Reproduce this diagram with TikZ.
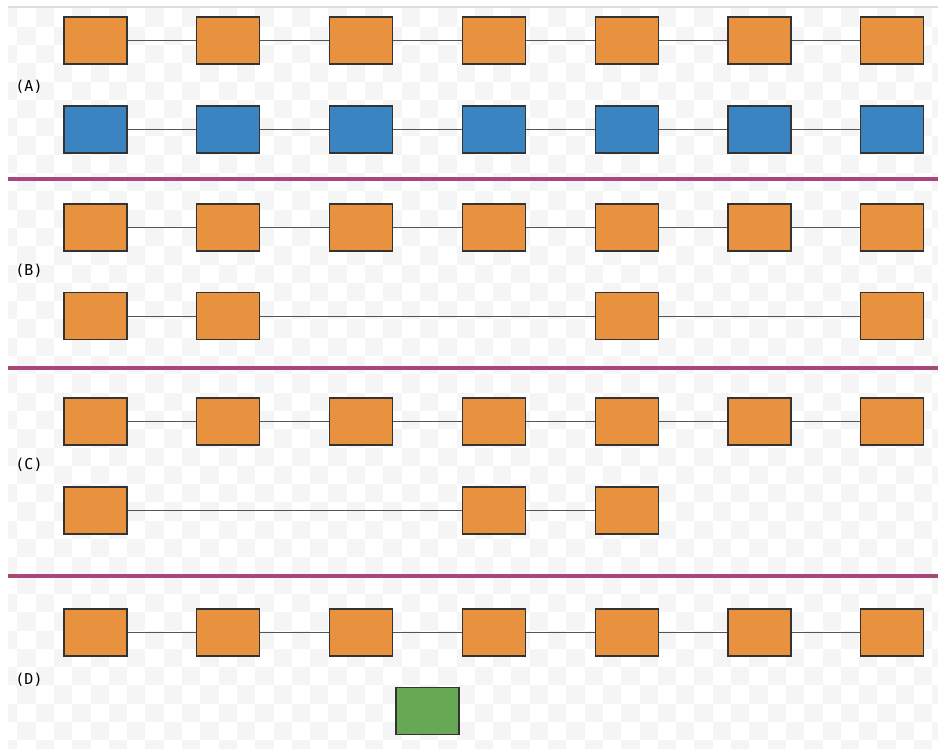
\documentclass[tikz,border=0pt]{standalone}
\usepackage{fontspec}
\newfontfamily\labelfont{DejaVu Sans Mono}
\definecolor{boxorange}{HTML}{E8923F}
\definecolor{boxblue}{HTML}{3A84C1}
\definecolor{boxgreen}{HTML}{66A853}
\definecolor{sepcol}{HTML}{A8487A}
\definecolor{checkgray}{HTML}{F5F5F5}
\definecolor{edgecol}{HTML}{333333}
\definecolor{linkcol}{HTML}{555555}
\tikzset{
  cell/.style={draw=edgecol, line width=1.2pt, minimum width=63pt, minimum height=47pt, inner sep=0pt},
  obox/.style={cell, fill=boxorange},
  bbox/.style={cell, fill=boxblue},
  gbox/.style={cell, fill=boxgreen},
  link/.style={draw=linkcol, line width=1pt},
  sepline/.style={draw=sepcol, line width=4pt},
  rowlabel/.style={font=\labelfont\fontsize{15}{18}\selectfont, inner sep=0pt}
}
\begin{document}
\begin{tikzpicture}[x=1pt,y=-1pt]
\useasboundingbox (0,0) rectangle (938,748);
\fill[white] (0,0) rectangle (938,748);
% checkered background
\begin{scope}
\clip (8,8.3) rectangle (938,748);
\foreach \i in {0,...,51}{
  \foreach \j in {0,...,40}{
    \pgfmathparse{int(mod(\i+\j,2))}
    \ifnum\pgfmathresult=0
      \fill[checkgray] ({-1+18.3*\i},{8.3+18.3*\j}) rectangle ++(18.3,18.3);
    \fi
  }
}
\end{scope}
\draw[draw=black!13, line width=1.5pt] (8,7) -- (938,7);
% separators
\draw[sepline] (8,179) -- (938,179);
\draw[sepline] (8,368) -- (938,368);
\draw[sepline] (8,576) -- (938,576);
% labels
\node[rowlabel] (la) at (29,87) {(A)};
\node[rowlabel] (lb) at (29,271) {(B)};
\node[rowlabel] (lc) at (29,465) {(C)};
\node[rowlabel] (ld) at (29,680) {(D)};
% full chains
\foreach \r/\y/\s in {a/40.5/obox, p/129.5/bbox, b/227.5/obox, c/421.5/obox, d/632.5/obox}{
  \foreach \k in {0,...,6}{
    \node[\s] (\r\k) at ({95.5+132.8*\k},\y) {};
  }
  \foreach \k [evaluate=\k as \n using int(\k+1)] in {0,...,5}{
    \draw[link] (\r\k) -- (\r\n);
  }
}
% B second row
\foreach \k in {0,1,4,6}{
  \node[obox] (q\k) at ({95.5+132.8*\k},316) {};
}
\draw[link] (q0) -- (q1);
\draw[link] (q1) -- (q4);
\draw[link] (q4) -- (q6);
% C second row
\foreach \k in {0,3,4}{
  \node[obox] (s\k) at ({95.5+132.8*\k},510.5) {};
}
\draw[link] (s0) -- (s3);
\draw[link] (s3) -- (s4);
% D second row
\node[gbox] (g) at (427.5,711) {};
\end{tikzpicture}
\end{document}
